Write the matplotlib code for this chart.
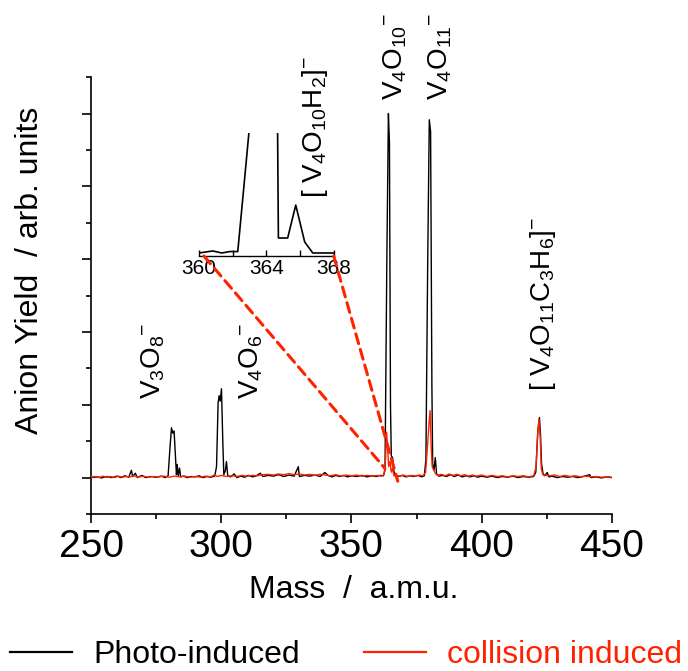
import numpy as np
import matplotlib
matplotlib.use('Agg')
import matplotlib.pyplot as plt
from matplotlib.patches import ConnectionPatch
from matplotlib.lines import Line2D

plt.rcParams['font.family'] = ['Liberation Sans', 'DejaVu Sans']
plt.rcParams['mathtext.fontset'] = 'custom'
plt.rcParams['mathtext.rm'] = 'Liberation Sans'
plt.rcParams['mathtext.it'] = 'Liberation Sans:italic'
plt.rcParams['mathtext.bf'] = 'Liberation Sans:bold'

RED = '#ff2200'

# photo-induced spectrum (black)
photo_mass = [250.0, 252.5, 254.0, 256.0, 258.0, 260.0, 261.5, 263.0, 264.5, 265.5,
              266.0, 267.0, 267.8, 269.5, 271.0, 273.0, 275.0, 277.0, 278.5, 279.6,
              280.3, 280.9, 281.4, 281.9, 282.4, 282.8, 283.1, 283.5, 284.0, 284.4,
              285.5, 287.0, 288.5, 290.0, 291.5, 293.0, 294.5, 296.0, 297.5, 298.2,
              298.8, 299.2, 299.6, 300.1, 300.6, 301.0, 301.6, 302.0, 302.5, 303.5,
              305.0, 306.0, 307.5, 309.0, 310.5, 312.0, 313.5, 315.0, 316.0, 318.0,
              320.0, 322.0, 324.0, 326.0, 328.0, 329.6, 330.0, 332.0, 334.0, 336.0,
              338.0, 339.8, 341.0, 342.5, 344.0, 345.5, 347.0, 348.5, 350.0, 352.0,
              354.0, 356.0, 358.0, 359.5, 361.0, 362.3, 362.9, 363.6, 364.2, 364.6,
              365.0, 365.3, 365.8, 366.2, 366.8, 368.0, 369.5, 371.0, 372.5, 374.0,
              375.5, 377.0, 378.0, 378.6, 379.3, 379.9, 380.4, 380.9, 381.2, 381.7,
              382.2, 382.7, 383.5, 385.0, 386.5, 388.0, 389.5, 391.0, 392.5, 394.0,
              395.5, 397.0, 398.5, 400.0, 402.0, 404.0, 406.0, 408.0, 410.0, 412.0,
              414.0, 416.0, 418.0, 420.0, 420.8, 421.6, 422.2, 422.6, 423.0, 423.6,
              424.2, 425.2, 425.8, 427.0, 429.0, 431.0, 433.0, 435.0, 437.0, 439.0,
              441.5, 442.0, 444.0, 446.0, 448.0, 450.0]
photo_yield = [0.00, 0.02, -0.01, 0.03, 0.00, 0.04, 0.00, 0.05, 0.01, 0.20,
               0.03, 0.12, 0.00, 0.06, 0.00, 0.03, 0.01, 0.04, 0.00, 0.05,
               0.80, 1.37, 1.22, 1.28, 0.60, 0.08, 0.36, 0.05, 0.26, 0.02,
               0.04, 0.00, 0.03, 0.02, 0.05, 0.00, 0.03, 0.01, 0.04, 0.30,
               2.05, 2.25, 2.10, 2.44, 1.00, 0.08, 0.20, 0.44, 0.05, 0.02,
               0.10, 0.00, 0.04, 0.01, 0.06, 0.02, 0.05, 0.12, 0.03, 0.06,
               0.04, 0.08, 0.03, 0.07, 0.04, 0.30, 0.03, 0.06, 0.04, 0.07,
               0.03, 0.14, 0.06, 0.02, 0.06, 0.03, 0.06, 0.02, 0.05, 0.03,
               0.06, 0.02, 0.05, 0.03, 0.06, 0.05, 0.20, 6.00, 10.00, 9.20,
               2.00, 0.60, 0.55, 0.20, 0.05, 0.03, 0.06, 0.02, 0.05, 0.03,
               0.06, 0.02, 0.05, 0.50, 6.00, 9.83, 9.50, 2.50, 0.38, 0.20,
               0.55, 0.10, 0.04, 0.06, 0.03, 0.08, 0.03, 0.07, 0.02, 0.05,
               0.02, 0.05, 0.01, 0.04, 0.01, 0.04, 0.00, 0.03, 0.01, 0.04,
               0.00, 0.03, 0.01, 0.03, 0.15, 1.30, 1.65, 1.20, 0.38, 0.10,
               0.05, 0.14, 0.02, 0.04, 0.00, 0.03, 0.01, 0.03, 0.00, 0.03,
               0.08, 0.00, 0.02, -0.01, 0.02, 0.00]

# collision induced spectrum (red)
cid_mass = [250.0, 251.5, 253.0, 254.5, 256.0, 257.5, 259.0, 260.5, 262.0, 263.5,
            265.0, 266.5, 268.0, 270.0, 272.0, 274.0, 276.0, 278.0, 280.0, 282.0,
            284.0, 286.0, 288.0, 290.0, 292.0, 294.0, 296.0, 297.5, 298.5, 300.0,
            302.0, 304.0, 306.0, 308.0, 310.0, 312.0, 314.0, 316.0, 318.0, 320.0,
            322.0, 324.0, 326.0, 328.0, 330.0, 332.0, 334.0, 336.0, 338.0, 340.0,
            342.0, 344.0, 346.0, 348.0, 350.0, 352.0, 354.0, 356.0, 358.0, 360.0,
            361.5, 362.5, 363.1, 363.5, 363.9, 364.3, 364.8, 365.3, 365.8, 366.3,
            367.0, 368.5, 370.0, 371.5, 373.0, 374.5, 376.0, 377.5, 378.5, 379.3,
            379.8, 380.2, 380.6, 381.0, 381.6, 382.2, 383.0, 384.5, 386.0, 387.5,
            389.0, 390.5, 392.0, 393.5, 395.0, 396.5, 398.0, 400.0, 402.0, 404.0,
            406.0, 408.0, 410.0, 412.0, 414.0, 416.0, 418.0, 420.0, 420.9, 421.5,
            422.0, 422.5, 422.9, 423.5, 424.5, 426.0, 428.0, 430.0, 432.0, 434.0,
            436.0, 438.0, 440.0, 442.0, 444.0, 446.0, 448.0, 450.0]
cid_yield = [0.01, 0.03, 0.00, 0.04, 0.01, 0.03, 0.00, 0.04, 0.01, 0.03,
             0.02, 0.05, 0.01, 0.04, 0.01, 0.03, 0.02, 0.04, 0.01, 0.04,
             0.02, 0.04, 0.01, 0.03, 0.01, 0.04, 0.02, 0.08, 0.03, 0.06,
             0.03, 0.05, 0.03, 0.06, 0.04, 0.06, 0.05, 0.08, 0.09, 0.07,
             0.10, 0.08, 0.11, 0.08, 0.10, 0.07, 0.09, 0.06, 0.09, 0.07,
             0.05, 0.08, 0.04, 0.07, 0.05, 0.07, 0.04, 0.06, 0.04, 0.06,
             0.04, 0.08, 0.50, 1.25, 0.80, 0.30, 0.45, 0.15, 0.25, 0.05,
             0.06, 0.04, 0.07, 0.03, 0.06, 0.04, 0.07, 0.05, 0.15, 0.95,
             1.50, 1.84, 0.90, 0.30, 0.20, 0.12, 0.06, 0.09, 0.05, 0.10,
             0.06, 0.09, 0.05, 0.08, 0.04, 0.07, 0.04, 0.07, 0.03, 0.06,
             0.03, 0.05, 0.02, 0.05, 0.03, 0.05, 0.02, 0.05, 0.30, 1.20,
             1.60, 1.10, 0.25, 0.08, 0.06, 0.05, 0.07, 0.03, 0.06, 0.03,
             0.05, 0.02, 0.04, 0.02, 0.03, 0.01, 0.02, 0.01]

# zoomed inset around the V4O10 peak
inset_mass = [360.0, 360.83, 361.36, 361.84, 362.31, 362.67, 363.3, 364.0, 364.62,
              364.72, 365.27, 365.75, 366.28, 366.76, 368.0]
inset_yield = [0.0, 0.17, 0.0, 0.12, 0.12, 5.5, 15.0, 40.0, 20.0,
               1.25, 1.25, 4.0, 0.92, 0.0, 0.0]

# peak labels: (text, mass, yield at label start)
peak_labels = [
    ('V$_3$O$_8$$^{-}$', 273.8, 2.17),
    ('V$_4$O$_6$$^{-}$', 311.4, 2.17),
    ('[ V$_4$O$_{10}$H$_2$]$^{-}$', 336.0, 7.69),
    ('V$_4$O$_{10}$$^{-}$', 366.7, 10.36),
    ('V$_4$O$_{11}$$^{-}$', 384.0, 10.36),
    ('[ V$_4$O$_{11}$C$_3$H$_6$]$^{-}$', 423.5, 2.39),
]

fig = plt.figure(figsize=(6.88, 6.71), dpi=100)
ax = fig.add_axes([0.1323, 0.234, 0.757, 0.651])
ax.plot(photo_mass, photo_yield, color='black', lw=1.0, zorder=2)
ax.plot(cid_mass, cid_yield, color=RED, lw=1.0, zorder=3)
ax.set_xlim(250, 450)
ax.set_ylim(-1, 11)
for s in ['top', 'right']:
    ax.spines[s].set_visible(False)
for s in ['left', 'bottom']:
    ax.spines[s].set_linewidth(1.2)
ax.set_xticks([250, 300, 350, 400, 450])
ax.set_xticks([275, 325, 375, 425], minor=True)
ax.set_yticks([0, 2, 4, 6, 8, 10])
ax.set_yticks([-1, 1, 3, 5, 7, 9, 11], minor=True)
ax.set_yticklabels([])
ax.tick_params(which='major', direction='out', length=6.5, width=1.2, labelsize=28, pad=4)
ax.tick_params(which='minor', direction='out', length=3.5, width=1.2)

for txt, m, v in peak_labels:
    ax.text(m, v, txt, rotation=90, ha='center', va='bottom', fontsize=20)

fig.text(30 / 688, 1 - 270 / 671, 'Anion Yield  / arb. units', rotation=90,
         ha='center', va='center', fontsize=23)
fig.text(354 / 688, 1 - 598 / 671, 'Mass  /  a.m.u.', ha='center', va='baseline',
         fontsize=23)

# inset
axi = fig.add_axes([0.289, 0.6185, 0.196, 0.183])
axi.patch.set_visible(False)
axi.plot(inset_mass, inset_yield, color='black', lw=1.2)
axi.set_xlim(360, 368)
axi.set_ylim(-0.25, 10)
for s in ['top', 'right', 'left']:
    axi.spines[s].set_visible(False)
axi.spines['bottom'].set_linewidth(1.0)
axi.set_yticks([])
axi.set_xticks([360, 362, 364, 366, 368])
axi.set_xticklabels(['360', '', '364', '', '368'])
axi.tick_params(axis='x', direction='in', length=4, width=1.0, labelsize=15, pad=2)

# dashed zoom lines
for (xa, ya), (xb, yb) in [((360.3, -0.25), (362.9, 0.25)), ((368, -0.25), (367.8, -0.1))]:
    con = ConnectionPatch(xyA=(xa, ya), coordsA=axi.transData,
                          xyB=(xb, yb), coordsB=ax.transData,
                          color=RED, lw=2.2, linestyle=(0, (3.3, 2)), zorder=5)
    fig.add_artist(con)

handles = [Line2D([], [], color='black', lw=1.6), Line2D([], [], color=RED, lw=1.6)]
leg = fig.legend(handles, ['Photo-induced', 'collision induced'], loc='center left',
                 bbox_to_anchor=(10 / 688, 1 - 655 / 671), ncol=2, frameon=False,
                 fontsize=23, handlelength=1.95, handletextpad=0.65,
                 columnspacing=2.0, borderpad=0, borderaxespad=0)
leg.get_texts()[1].set_color(RED)

fig.savefig('out.png', dpi=100)
